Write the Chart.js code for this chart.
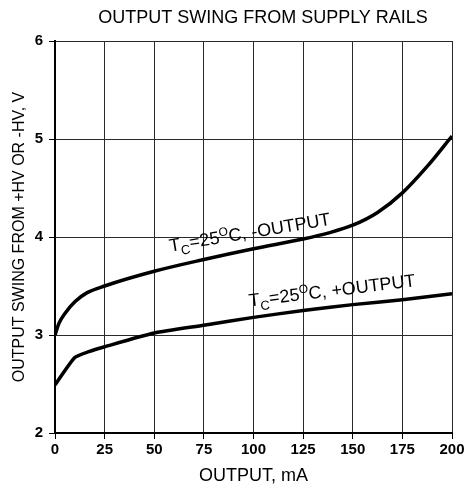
<!DOCTYPE html>
<html>
<head>
<meta charset="utf-8">
<script src="https://cdn.jsdelivr.net/npm/chart.js@4.4.1/dist/chart.umd.min.js"></script>
<style>
	html, body { margin: 0; padding: 0; background: #fff; }
	#wrap { width: 468px; height: 489px; }
</style>
</head>
<body>
<div id="wrap"><canvas id="chart" width="468" height="489"></canvas></div>
<script>
// valores
const currentMinus = [0, 2, 5, 10, 16, 25, 50, 75, 100, 125, 137.5, 150, 162.5, 175, 187.5, 200]
const swingMinus = [3.0, 3.12, 3.22, 3.34, 3.43, 3.5, 3.65, 3.77, 3.88, 3.98, 4.04, 4.12, 4.25, 4.45, 4.72, 5.03]
const currentPlus = [0, 10, 17, 25, 50, 75, 100, 125, 150, 175, 200]
const swingPlus = [2.49, 2.77, 2.83, 2.88, 3.02, 3.1, 3.18, 3.25, 3.31, 3.36, 3.42]
const xTicks = [0, 25, 50, 75, 100, 125, 150, 175, 200]
const yTicks = [2, 3, 4, 5, 6]

const chartTitle = 'OUTPUT SWING FROM SUPPLY RAILS'
const xTitle = 'OUTPUT, mA'
const yTitle = 'OUTPUT SWING FROM +HV OR -HV, V'
// etiquetas de las curvas
const curveLabels = [
	{ x: 58, y: 3.85, angle: -9.5, text: ', -OUTPUT' },
	{ x: 98, y: 3.29, angle: -7, text: ', +OUTPUT' },
]

const FONT = "'Liberation Sans', Arial, sans-serif"
const toPoints = (xs, ys) => xs.map((x, i) => ({ x, y: ys[i] }))

// Titulo y etiquetas con subindice
const textPlugin = {
	id: 'textPlugin',
	afterDraw(chart) {
		const { ctx, scales } = chart
		ctx.save()
		ctx.fillStyle = '#000'
		ctx.font = '18px ' + FONT
		ctx.textAlign = 'center'
		ctx.textBaseline = 'middle'
		ctx.fillText(chartTitle, 263, 18)

		curveLabels.forEach((lab) => {
			const px = scales.x.getPixelForValue(lab.x)
			const py = scales.y.getPixelForValue(lab.y)
			ctx.save()
			ctx.translate(px, py)
			ctx.rotate((lab.angle * Math.PI) / 180)
			ctx.textAlign = 'left'
			ctx.textBaseline = 'alphabetic'
			let cx = 0
			const part = (t, size, dy) => {
				ctx.font = size + 'px ' + FONT
				ctx.fillText(t, cx, dy)
				cx += ctx.measureText(t).width
			}
			part('T', 18, 0)
			part('C', 13, 5)
			part('=25', 18, 0)
			part('O', 12, -7)
			part('C' + lab.text, 18, 0)
			ctx.restore()
		})
		ctx.restore()
	},
}

const ctx = document.getElementById('chart').getContext('2d')
const myChart = new Chart(ctx, {
	type: 'scatter',
	data: {
		datasets: [
			{
				label: '-OUTPUT',
				data: toPoints(currentMinus, swingMinus),
				showLine: true,
				borderColor: '#000',
				borderWidth: 3.5,
				pointRadius: 0,
				cubicInterpolationMode: 'monotone',
			},
			{
				label: '+OUTPUT',
				data: toPoints(currentPlus, swingPlus),
				showLine: true,
				borderColor: '#000',
				borderWidth: 3.5,
				pointRadius: 0,
				tension: 0.2,
			},
		],
	},
	options: {
		responsive: false,
		animation: false,
		layout: { padding: { top: 41, right: 16, left: 0, bottom: 0 } },
		plugins: {
			legend: { display: false },
			tooltip: { enabled: false },
		},
		scales: {
			x: {
				type: 'linear',
				min: 0,
				max: 200,
				afterBuildTicks: (s) => { s.ticks = xTicks.map((v) => ({ value: v })) },
				afterFit: (s) => { s.height = 56 },
				ticks: { color: '#000', font: { family: FONT, size: 15, weight: 'bold' }, padding: 2, maxRotation: 0 },
				grid: { color: '#2a2a2a', lineWidth: 1, tickLength: 6, tickColor: '#000' },
				border: { color: '#000', width: 2 },
				title: { display: true, text: xTitle, color: '#000', font: { family: FONT, size: 18 }, padding: { top: 0, bottom: 2 } },
			},
			y: {
				min: 2,
				max: 6,
				afterBuildTicks: (s) => { s.ticks = yTicks.map((v) => ({ value: v })) },
				afterFit: (s) => { s.width = 55 },
				ticks: { color: '#000', font: { family: FONT, size: 15, weight: 'bold' }, padding: 6 },
				grid: { color: '#2a2a2a', lineWidth: 1, tickLength: 6, tickColor: '#000' },
				border: { color: '#000', width: 2 },
				title: { display: true, text: yTitle, color: '#000', font: { family: FONT, size: 16 }, padding: { top: 10, bottom: 0 } },
			},
		},
	},
	plugins: [textPlugin],
})
</script>
</body>
</html>
